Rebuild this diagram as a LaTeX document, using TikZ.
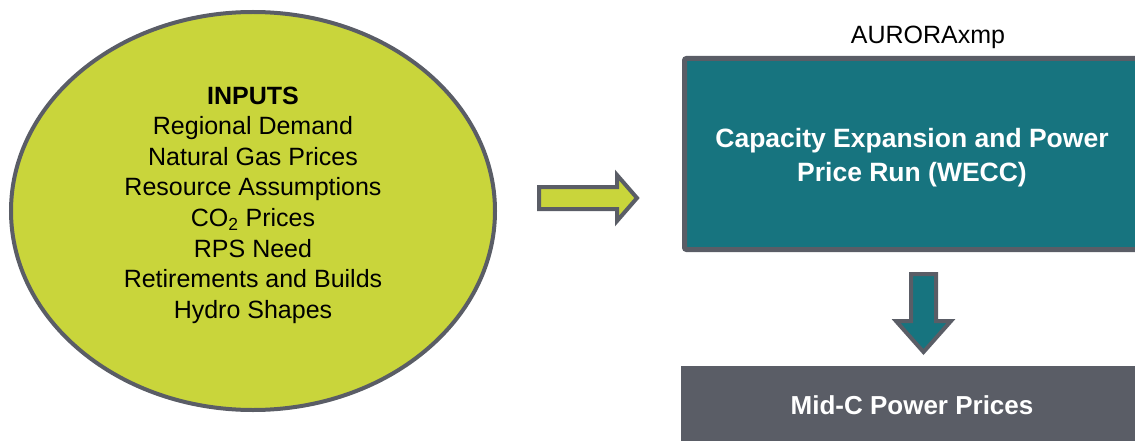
\documentclass[tikz,border=0pt]{standalone}
\usepackage{fontspec}
\setmainfont{Liberation Sans}
\usetikzlibrary{shapes.geometric}
\definecolor{lime}{HTML}{C9D53B}
\definecolor{teal}{HTML}{17747F}
\definecolor{slate}{HTML}{5A5D66}
\tikzset{
  inputs/.style={ellipse, draw=slate, line width=4pt, fill=lime, inner sep=0pt},
  listtext/.style={align=center, font=\fontsize{25}{30.6}\selectfont, text=black, inner sep=0pt},
  runbox/.style={rectangle, rounded corners=2pt, draw=slate, line width=5pt, fill=teal},
  runtext/.style={text=white, align=center, inner sep=0pt,
    font=\bfseries\fontsize{26.5}{34}\selectfont},
  outbox/.style={rectangle, fill=slate, text=white,
    font=\bfseries\fontsize{26}{31}\selectfont},
  blockarrow/.style={draw=slate, line width=4pt, line join=miter},
}
\begin{document}
\begin{tikzpicture}[x=1pt, y=-1pt]
  \path[use as bounding box] (0,0) rectangle (1135,441);
  \clip (0,0) rectangle (1135,441);

  % input ellipse and its list
  \node[inputs, minimum width=484pt, minimum height=398pt] (in) at (253,211) {};
  \node[listtext] (list) at (253,205) {\textbf{INPUTS}\\Regional Demand\\Natural Gas Prices\\Resource Assumptions\\CO\textsubscript{2} Prices\\RPS Need\\Retirements and Builds\\Hydro Shapes};

  % model run box, its text and its title
  \node[runbox, minimum width=455pt, minimum height=191pt] (run) at (912,154) {};
  \node[runtext] (runlabel) at (912,158) {Capacity Expansion and Power\\Price Run (WECC)};
  \node[font=\fontsize{25}{30}\selectfont, inner sep=0pt] (tool) at (928,37) {AURORAxmp};

  % output box
  \node[outbox, minimum width=462pt, minimum height=78pt] (out) at (912,405) {Mid-C Power Prices};

  % block arrow from inputs to the run
  \draw[blockarrow, fill=lime]
    (539,187) -- (617,187) -- (617,175) -- (637,198) -- (617,221) -- (617,209) -- (539,209) -- cycle;

  % block arrow from the run to the output
  \draw[blockarrow, fill=teal]
    (911,274) -- (936,274) -- (936,321) -- (951,321) -- (923.5,352) -- (896,321) -- (911,321) -- cycle;
\end{tikzpicture}
\end{document}
